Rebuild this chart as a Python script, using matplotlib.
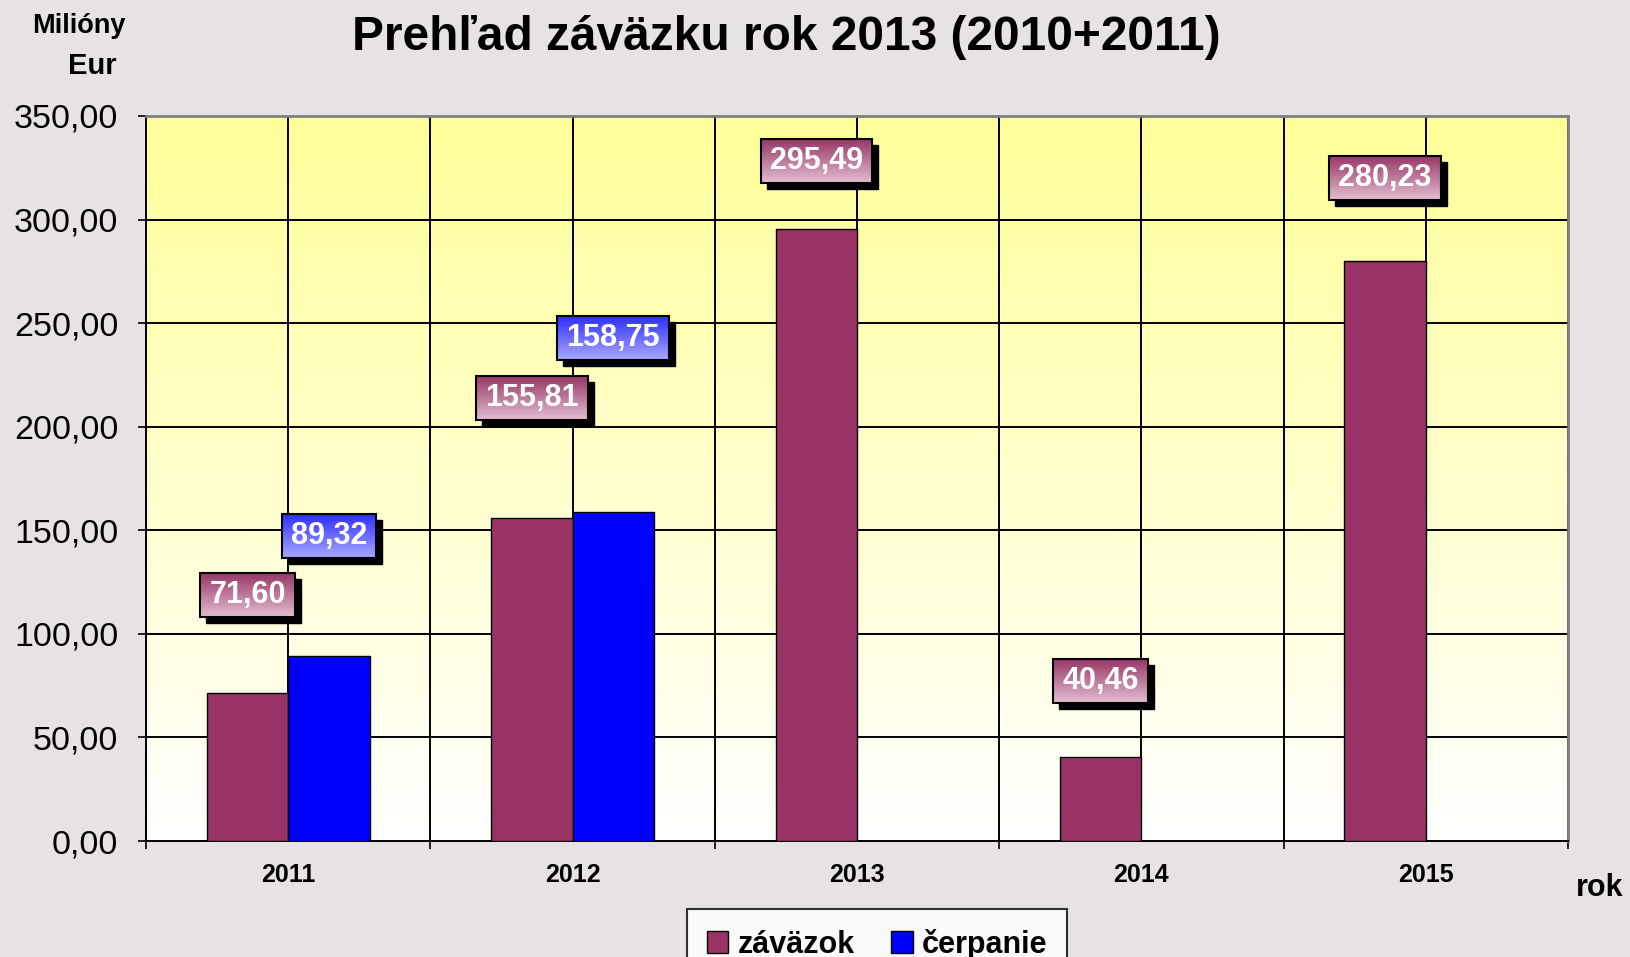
import numpy as np
import matplotlib.pyplot as plt
from matplotlib.patches import Rectangle, Patch
from matplotlib.colors import LinearSegmentedColormap
from matplotlib.ticker import FuncFormatter

plt.rcParams['font.family'] = ['Liberation Sans', 'DejaVu Sans']

# data
roky = ['2011', '2012', '2013', '2014', '2015']
zavazok = [71.60, 155.81, 295.49, 40.46, 280.23]
cerpanie = [89.32, 158.75]          # len pre 2011 a 2012

# posun stitkov nad stlpcom (layout)
posun_zav = [47, 58, 33, 37, 40]
posun_cer = [58, 84]

c_zav = '#993366'
c_cer = '#0000FF'
w = 0.286

fig = plt.figure(figsize=(16.3, 9.57), dpi=100)
fig.patch.set_facecolor('#E7E3E5')
ax = fig.add_axes([146 / 1630, 1 - 841 / 957, 1422 / 1630, 725 / 957])

# pozadie grafu - prechod zlta -> biela
bg = LinearSegmentedColormap.from_list('bg', ['#FFFFFF', '#FFFF99'])
ax.imshow(np.linspace(0, 1, 256).reshape(-1, 1), cmap=bg, aspect='auto',
          extent=[-0.5, 4.5, 0, 350], origin='lower', zorder=0)

# mriezka
for y in range(50, 351, 50):
    ax.axhline(y, color='black', lw=1.4, zorder=1)
for x in np.arange(-0.5, 4.6, 0.5):
    ax.axvline(x, color='black', lw=1.4, zorder=1)

xs = np.arange(len(roky))
ax.bar(xs - w / 2, zavazok, w, color=c_zav, edgecolor='black', lw=1, zorder=3)
ax.bar(xs[:len(cerpanie)] + w / 2, cerpanie, w, color=c_cer, edgecolor='black', lw=1, zorder=3)

ax.set_xlim(-0.5, 4.5)
ax.set_ylim(0, 350)

ax.set_yticks(range(0, 351, 50))
ax.yaxis.set_major_formatter(FuncFormatter(lambda v, p: f'{v:.2f}'.replace('.', ',')))
ax.tick_params(axis='y', direction='out', length=6, width=1.2, pad=14, labelsize=24.5)
ax.set_xticks(np.arange(-0.5, 4.6, 1))
ax.set_xticklabels([])
ax.tick_params(axis='x', which='major', direction='out', length=6, width=1.2)
ax.set_xticks(xs, minor=True)
ax.set_xticklabels(roky, minor=True, fontweight='bold', fontsize=18)
ax.tick_params(axis='x', which='minor', length=0, pad=16)

for s in ['left', 'bottom']:
    ax.spines[s].set_linewidth(1.4)
for s in ['top', 'right']:
    ax.spines[s].set_color('#7F7F7F')
    ax.spines[s].set_linewidth(2)

# stitky s hodnotami
stitky = []
for i, v in enumerate(zavazok):
    t = ax.text(xs[i] - w / 2, v + posun_zav[i], f'{v:.2f}'.replace('.', ','),
                ha='center', va='center', fontsize=22, fontweight='bold', color='white', zorder=7)
    stitky.append((t, '#E2BDD0', '#983868'))
for i, v in enumerate(cerpanie):
    t = ax.text(xs[i] + w / 2, v + posun_cer[i], f'{v:.2f}'.replace('.', ','),
                ha='center', va='center', fontsize=22, fontweight='bold', color='white', zorder=7)
    stitky.append((t, '#A8A8FF', '#2F2FFF'))

fig.text(786 / 1630, 1 - 37 / 957, 'Prehľad záväzku rok 2013 (2010+2011)',
         ha='center', va='center', fontsize=34.5, fontweight='bold')
fig.text(126 / 1630, 1 - 26 / 957, 'Milióny', ha='right', va='center', fontsize=19.5, fontweight='bold')
fig.text(117 / 1630, 1 - 66 / 957, 'Eur', ha='right', va='center', fontsize=21, fontweight='bold')
fig.text(1600 / 1630, 1 - 888 / 957, 'rok', ha='center', va='center', fontsize=22, fontweight='bold')

leg = fig.legend(handles=[Patch(facecolor=c_zav, edgecolor='black', label='záväzok'),
                          Patch(facecolor=c_cer, edgecolor='black', label='čerpanie')],
                 loc='upper center', bbox_to_anchor=(877 / 1630, 1 - 909 / 957),
                 ncol=2, frameon=True, fancybox=False,
                 prop={'weight': 'bold', 'size': 22},
                 handlelength=0.7, handleheight=0.7, handletextpad=0.3,
                 columnspacing=1.2, borderpad=0.65, borderaxespad=0)
leg.get_frame().set_edgecolor('black')
leg.get_frame().set_linewidth(1.5)

# ramceky so sklonom farby a tienom
fig.canvas.draw()
r = fig.canvas.get_renderer()
inv = ax.transData.inverted()
for t, c_low, c_high in stitky:
    bb = t.get_window_extent(r)
    cx, cy = (bb.x0 + bb.x1) / 2, (bb.y0 + bb.y1) / 2
    hw, hh = bb.width / 2 + 9, 22
    (x0, y0), (x1, y1) = inv.transform([(cx - hw, cy - hh), (cx + hw, cy + hh)])
    (sx0, sy0), (sx1, sy1) = inv.transform([(cx - hw + 6, cy - hh - 6), (cx + hw + 6, cy + hh - 6)])
    ax.add_patch(Rectangle((sx0, sy0), sx1 - sx0, sy1 - sy0, color='black', zorder=4))
    cm = LinearSegmentedColormap.from_list('g', [c_low, c_high])
    ax.imshow(np.linspace(0, 1, 64).reshape(-1, 1), cmap=cm, aspect='auto',
              extent=[x0, x1, y0, y1], origin='lower', zorder=5)
    ax.add_patch(Rectangle((x0, y0), x1 - x0, y1 - y0, fill=False, edgecolor='black', lw=1.5, zorder=6))

ax.set_xlim(-0.5, 4.5)
ax.set_ylim(0, 350)

fig.savefig('out.png', dpi=100, facecolor=fig.get_facecolor())
